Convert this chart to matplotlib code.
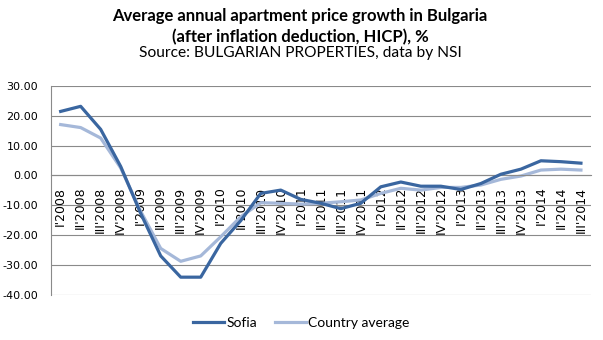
import matplotlib.pyplot as plt
import numpy as np
from matplotlib.ticker import FormatStrFormatter

plt.rcParams['axes.unicode_minus'] = False

# quarterly real price growth, %
quarters = ["I'2008", "II'2008", "III'2008", "IV'2008",
            "I'2009", "II'2009", "III'2009", "IV'2009",
            "I'2010", "II'2010", "III'2010", "IV'2010",
            "I'2011", "II'2011", "III'2011", "IV'2011",
            "I'2012", "II'2012", "III'2012", "IV'2012",
            "I'2013", "II'2013", "III'2013", "IV'2013",
            "I'2014", "II'2014", "III'2014"]
sofia = [21.4, 23.1, 15.4, 3.0, -12.7, -26.9, -34.0, -34.0, -22.7, -15.1,
         -6.0, -4.9, -8.0, -9.3, -11.1, -9.3, -3.8, -2.2, -3.6, -3.6,
         -4.7, -2.7, 0.4, 2.1, 4.9, 4.6, 4.1]
country = [17.0, 16.0, 12.5, 2.5, -12.0, -24.4, -28.7, -26.9, -20.5, -13.8,
           -9.1, -9.3, -9.6, -9.3, -8.8, -8.2, -6.0, -4.3, -4.9, -4.0,
           -4.0, -3.2, -1.3, -0.2, 1.8, 2.1, 1.8]
yticks = [-40, -30, -20, -10, 0, 10, 20, 30]

dark = '#3a66a0'
light = '#a5b8d9'

fig = plt.figure(figsize=(6.03, 3.4), dpi=100)
ax = fig.add_axes([0.084, 0.132, 0.896, 0.616])

x = np.arange(len(quarters))
ax.plot(x, sofia, color=dark, lw=2.3, label='Sofia', solid_joinstyle='round', zorder=3)
ax.plot(x, country, color=light, lw=2.3, label='Country average', solid_joinstyle='round', zorder=2)

ax.set_xlim(-0.5, len(quarters) - 0.5)
ax.set_ylim(-40, 30)
ax.set_yticks(yticks)
ax.yaxis.set_major_formatter(FormatStrFormatter('%.2f'))
ax.grid(axis='y', color='#8a8a8a', lw=0.8, zorder=0)
ax.set_axisbelow(True)

for s in ['top', 'right']:
    ax.spines[s].set_visible(False)
ax.spines['left'].set_color('#8a8a8a')
ax.spines['left'].set_linewidth(0.8)
# category axis crosses at zero
ax.spines['bottom'].set_position(('data', 0))
ax.spines['bottom'].set_color('#8a8a8a')
ax.spines['bottom'].set_linewidth(0.8)

ax.set_xticks(x)
ax.set_xticklabels(quarters, rotation=90, fontsize=9)
ax.tick_params(axis='x', length=0, pad=8)
ax.tick_params(axis='y', length=0, pad=9, labelsize=8)

fig.text(0.4975, 0.939, 'Average annual apartment price growth in Bulgaria',
         ha='center', va='baseline', fontsize=12, fontweight='bold', family='Lato')
fig.text(0.4975, 0.877, '(after inflation deduction, HICP), %',
         ha='center', va='baseline', fontsize=12, fontweight='bold', family='Lato')
fig.text(0.4975, 0.8315, 'Source: BULGARIAN PROPERTIES, data by NSI',
         ha='center', va='baseline', fontsize=11.2, family='Lato')

fig.legend(loc='center', bbox_to_anchor=(0.5, 0.05), ncol=2, frameon=False,
           prop={'family': 'Lato', 'size': 10}, handlelength=2.2,
           handletextpad=0.2, columnspacing=1.3)

fig.savefig('out.png', dpi=100)
